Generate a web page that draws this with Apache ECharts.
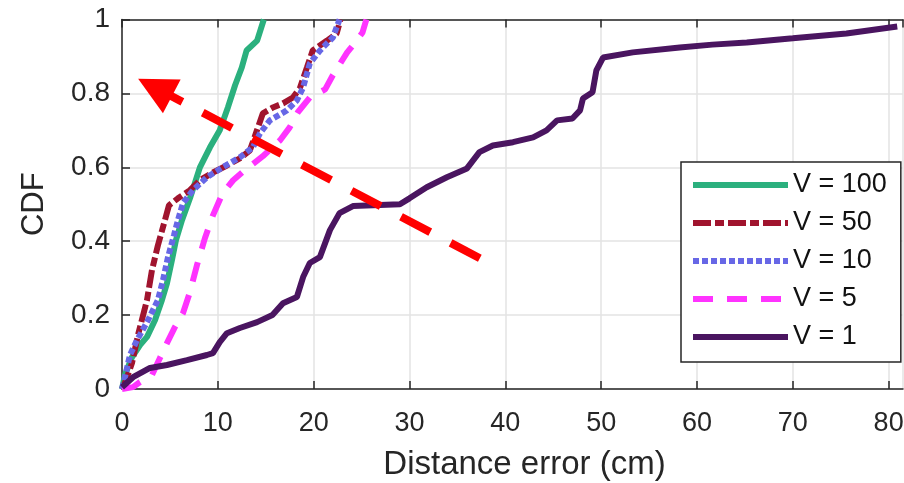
<!DOCTYPE html>
<html>
<head>
<meta charset="utf-8">
<script src="https://cdn.jsdelivr.net/npm/echarts@6/dist/echarts.min.js"></script>
<style>
  html, body { margin: 0; padding: 0; background: #fff; }
  #chart { width: 904px; height: 483px; }
</style>
</head>
<body>
<div id="chart"></div>
<script>
// CDF curves, [distance error (cm), CDF]
const v100 = [
  [0, 0], [0.31, 0.038], [1.04, 0.086], [1.88, 0.119], [2.61, 0.141], [3.44, 0.186],
  [4.17, 0.241], [4.69, 0.286], [5.21, 0.349], [5.63, 0.403], [6.26, 0.457], [7.09, 0.516],
  [8.13, 0.6], [9.18, 0.654], [10.2, 0.7], [11.05, 0.762], [11.8, 0.822], [12.5, 0.87],
  [13.0, 0.916], [14.1, 0.943], [14.8, 1.0]
];
const v50 = [
  [0, 0], [0.42, 0.024], [1.04, 0.07], [1.67, 0.146], [2.61, 0.241], [3.13, 0.322],
  [3.75, 0.389], [4.48, 0.457], [4.9, 0.497], [5.84, 0.516], [7.09, 0.538], [8.13, 0.565],
  [9.49, 0.586], [10.95, 0.605], [12.3, 0.624], [13.35, 0.646], [14.08, 0.7], [14.7, 0.746],
  [15.75, 0.762], [16.8, 0.773], [17.83, 0.789], [18.56, 0.814], [19.3, 0.87], [19.9, 0.916],
  [21.4, 0.943], [22.4, 0.962], [22.8, 1.0]
];
const v10 = [
  [0, 0], [0.31, 0.032], [0.83, 0.092], [1.56, 0.132], [2.71, 0.186], [3.75, 0.241],
  [4.28, 0.295], [4.8, 0.357], [5.42, 0.416], [5.84, 0.457], [6.36, 0.503], [7.4, 0.538],
  [8.86, 0.573], [10.5, 0.6], [12.3, 0.627], [13.66, 0.654], [14.4, 0.692], [15.43, 0.727],
  [17.2, 0.754], [18.25, 0.781], [18.9, 0.816], [19.6, 0.881], [20.65, 0.916], [22.0, 0.951],
  [22.7, 1.0]
];
const v5 = [
  [0, 0], [1.15, 0.005], [1.88, 0.019], [3.13, 0.038], [3.96, 0.084], [4.69, 0.124],
  [5.53, 0.168], [6.36, 0.205], [7.09, 0.262], [7.82, 0.335], [8.65, 0.408], [9.49, 0.47],
  [10.5, 0.53], [11.6, 0.565], [12.8, 0.592], [14.7, 0.63], [16.5, 0.673], [17.5, 0.708],
  [18.35, 0.749], [19.6, 0.789], [21.2, 0.811], [22.0, 0.849], [23.5, 0.911], [24.1, 0.93],
  [25.1, 0.965], [25.5, 1.0]
];
const v1 = [
  [0, 0.005], [1.15, 0.032], [2.92, 0.057], [4.69, 0.065], [6.78, 0.078], [8.86, 0.092],
  [9.49, 0.097], [10.2, 0.127], [10.95, 0.151], [12.3, 0.165], [14.1, 0.181], [15.7, 0.2],
  [16.8, 0.232], [18.25, 0.249], [18.9, 0.303], [19.6, 0.341], [20.65, 0.357], [21.7, 0.43],
  [22.7, 0.476], [24.1, 0.495], [26.2, 0.497], [29.0, 0.5], [30.0, 0.516], [31.8, 0.546],
  [33.9, 0.573], [36.0, 0.597], [37.3, 0.641], [38.7, 0.659], [40.8, 0.668], [42.9, 0.681],
  [44.3, 0.7], [45.4, 0.727], [47.0, 0.732], [47.8, 0.754], [48.1, 0.786], [49.1, 0.803],
  [49.5, 0.862], [50.2, 0.897], [53.3, 0.911], [58.2, 0.924], [61.6, 0.932], [65.2, 0.938],
  [70.0, 0.949], [75.6, 0.962], [80.9, 0.981]
];
const seriesNames = ["V = 100", "V = 50", "V = 10", "V = 5", "V = 1"];
// arrow annotation: tail -> head (data coords)
const arrowLine = [[37.34, 0.354], [3.44, 0.816]];

const font = "'Liberation Sans', Arial, sans-serif";
const textColor = "#262626";

const chart = echarts.init(document.getElementById("chart"));

const makeLine = (name, data, color, type) => ({
  name: name,
  type: "line",
  data: data,
  showSymbol: false,
  symbol: "none",
  smooth: false,
  lineStyle: { color: color, width: 6, type: type },
  itemStyle: { color: color },
});

let option = {
  animation: false,
  grid: { left: 122, right: 1, top: 19.5, bottom: 94, containLabel: false, outerBoundsMode: "none" },
  legend: {
    orient: "vertical",
    left: 681,
    top: 162,
    data: seriesNames,
    itemWidth: 95,
    itemHeight: 12,
    itemGap: 8,
    padding: [8, 14, 10, 9],
    borderColor: "#262626",
    borderWidth: 1.5,
    backgroundColor: "#fff",
    itemStyle: { opacity: 0 },
    lineStyle: { width: 6 },
    textStyle: { fontFamily: font, fontSize: 27, lineHeight: 30, color: "#111" },
  },
  xAxis: [
    {
      type: "value",
      min: 0,
      max: 81.5,
      interval: 10,
      name: "Distance error (cm)",
      nameLocation: "middle",
      nameGap: 59,
      nameTextStyle: { fontFamily: font, fontSize: 33, color: textColor, padding: [0, 0, 0, 24] },
      axisLine: { show: true, lineStyle: { color: textColor, width: 1.5 } },
      axisTick: { show: true, inside: true, length: 8, lineStyle: { color: textColor, width: 1.5 } },
      axisLabel: {
        margin: 21,
        fontFamily: font,
        fontSize: 27,
        color: textColor,
        showMaxLabel: false,
        formatter: (v) => (v % 10 === 0 ? String(v) : ""),
      },
      splitLine: { show: true, lineStyle: { color: "#e3e3e3", width: 1.5 } },
    },
    {
      type: "value",
      position: "top",
      min: 0,
      max: 81.5,
      interval: 10,
      axisLine: { show: true, lineStyle: { color: textColor, width: 1.5 } },
      axisTick: { show: true, inside: true, length: 8, lineStyle: { color: textColor, width: 1.5 } },
      axisLabel: { show: false },
      splitLine: { show: false },
    },
  ],
  yAxis: {
    type: "value",
    min: 0,
    max: 1,
    interval: 0.2,
    name: "CDF",
    nameLocation: "middle",
    nameGap: 72,
    nameTextStyle: { fontFamily: font, fontSize: 31, color: textColor },
    axisLine: { show: true, lineStyle: { color: textColor, width: 1.5 } },
    axisTick: { show: true, inside: true, length: 8, lineStyle: { color: textColor, width: 1.5 } },
    axisLabel: { margin: 12, fontFamily: font, fontSize: 28, color: textColor },
    splitLine: { show: true, lineStyle: { color: "#e3e3e3", width: 1.5 } },
  },
  series: [
    makeLine(seriesNames[0], v100, "#2bb07e", "solid"),
    makeLine(seriesNames[1], v50, "#a0142e", [18, 4, 9, 4]),
    makeLine(seriesNames[2], v10, "#6767e6", [6, 3]),
    makeLine(seriesNames[3], v5, "#ff33ff", [20, 14]),
    makeLine(seriesNames[4], v1, "#4a1560", "solid"),
    {
      type: "line",
      data: [],
      silent: true,
      markLine: {
        silent: true,
        animation: false,
        symbol: ["none", "triangle"],
        symbolSize: 38,
        label: { show: false },
        lineStyle: { color: "#ff0000", width: 8, type: [33, 23], opacity: 1 },
        itemStyle: { color: "#ff0000" },
        emphasis: { disabled: true },
        data: [[{ coord: arrowLine[0] }, { coord: arrowLine[1] }]],
      },
    },
  ],
};

chart.setOption(option);
</script>
</body>
</html>
